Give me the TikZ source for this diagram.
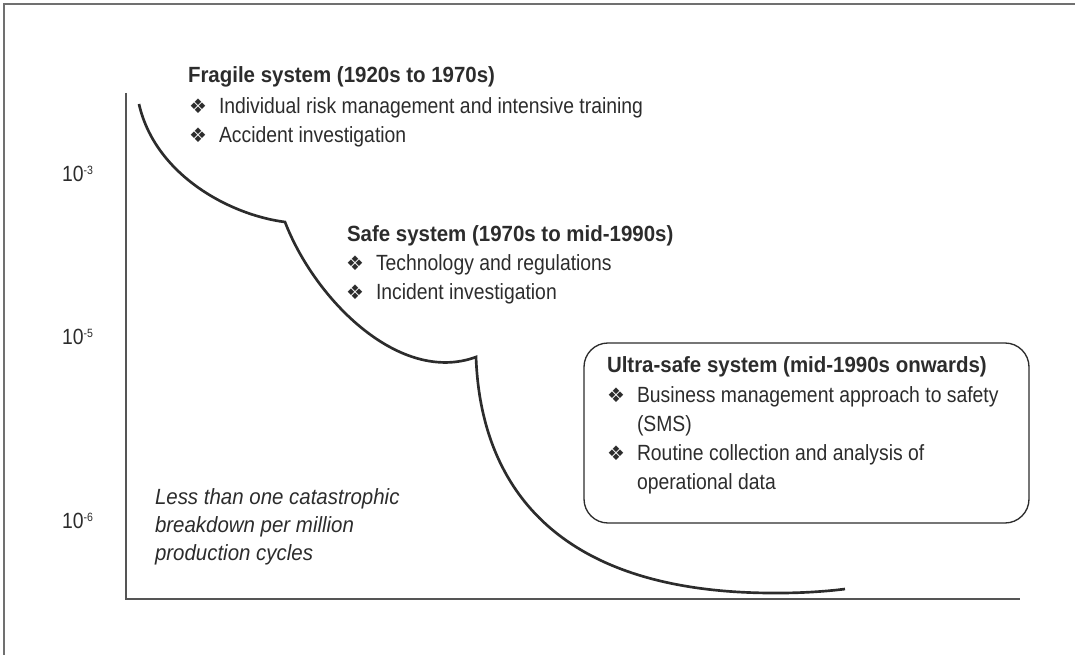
\documentclass[tikz,border=0pt]{standalone}
\usepackage{fontspec}
\setmainfont[FakeStretch=0.88,BoldFeatures={FakeStretch=0.93},ItalicFeatures={FakeStretch=0.93}]{Liberation Sans}
\newfontfamily\symf{DejaVu Sans}
\definecolor{ink}{HTML}{2C2C2C}
\definecolor{axisgray}{HTML}{555555}
\definecolor{framegray}{HTML}{707070}
\begin{document}
\begin{tikzpicture}[x=0.75pt,y=-0.75pt,
  lbl/.style={inner sep=0pt,outer sep=0pt,anchor=base west,text=ink},
  ttl/.style={lbl,font=\fontsize{16.5pt}{19pt}\selectfont\bfseries},
  itm/.style={lbl,font=\fontsize{16.5pt}{19pt}\selectfont},
  note/.style={lbl,font=\fontsize{16.5pt}{19pt}\selectfont\itshape},
  bul/.style={inner sep=0pt,outer sep=0pt,anchor=center,text=ink,font=\symf\fontsize{15pt}{15pt}\selectfont},
  ticklbl/.style={lbl,font=\fontsize{16.5pt}{19pt}\selectfont},
  axisline/.style={draw=axisgray,line width=1.1pt},
  riskcurve/.style={draw=ink,line width=2pt,line join=miter},
  sysbox/.style={draw=ink,line width=1pt,rounded corners=18pt}]
\useasboundingbox (0,0) rectangle (1075,655);
% outer frame (top and left edges visible)
\coordinate (fbl) at (4,655);
\coordinate (ftl) at (4,4);
\coordinate (ftr) at (1075,4);
\draw[draw=framegray,line width=1.1pt] (fbl) -- (ftl) -- (ftr);
% axes
\coordinate (ytop) at (126,93);
\coordinate (orig) at (126,599);
\coordinate (xend) at (1020,599);
\draw[axisline] (ytop) -- (orig) -- (xend);
% tick labels
\newcommand\sxp[1]{\raisebox{5.5pt}{\fontsize{9pt}{9pt}\selectfont #1}}
\node[ticklbl] (t3) at (62,182) {10\sxp{-3}};
\node[ticklbl] (t5) at (62,345) {10\sxp{-5}};
\node[ticklbl] (t6) at (62,529) {10\sxp{-6}};
% curve
\coordinate (c0) at (139,104);
\coordinate (c1) at (285,222);
\coordinate (c2) at (476,357);
\coordinate (c3) at (780,593);
\coordinate (c4) at (845,589);
\draw[riskcurve] (c0) .. controls (155,175) and (230,215) .. (c1)
  .. controls (315,300) and (400,385) .. (c2)
  .. controls (480,470) and (540,595) .. (c3)
  .. controls (805,593) and (830,591) .. (c4);
% fragile system
\node[ttl] (f0) at (188,83) {Fragile system (1920s to 1970s)};
\node[bul] (fb1) at (198,106) {❖};
\node[itm] (f1) at (219,114) {Individual risk management and intensive training};
\node[bul] (fb2) at (198,135) {❖};
\node[itm] (f2) at (219,143) {Accident investigation};
% safe system
\node[ttl] (s0) at (347,242) {Safe system (1970s to mid-1990s)};
\node[bul] (sb1) at (355,263) {❖};
\node[itm] (s1) at (376,271) {Technology and regulations};
\node[bul] (sb2) at (355,292) {❖};
\node[itm] (s2) at (376,300) {Incident investigation};
% ultra-safe system
\coordinate (bx0) at (584,343);
\coordinate (bx1) at (1029,523);
\draw[sysbox] (bx0) rectangle (bx1);
\node[ttl] (u0) at (607,373) {Ultra-safe system (mid-1990s onwards)};
\node[bul] (ub1) at (616,395) {❖};
\node[itm] (u1) at (637,403) {Business management approach to safety};
\node[itm] (u1b) at (637,432) {(SMS)};
\node[bul] (ub2) at (616,453) {❖};
\node[itm] (u2) at (637,461) {Routine collection and analysis of};
\node[itm] (u2b) at (637,490) {operational data};
% note
\node[note] (n1) at (155,505) {Less than one catastrophic};
\node[note] (n2) at (155,533) {breakdown per million};
\node[note] (n3) at (155,561) {production cycles};
\end{tikzpicture}
\end{document}
